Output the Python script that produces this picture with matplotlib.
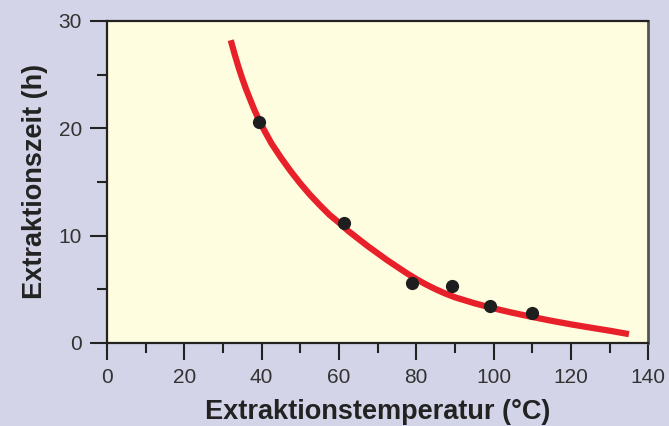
import numpy as np
import matplotlib.pyplot as plt
from matplotlib.ticker import MultipleLocator

# measured points
temp = [39.3, 61.4, 79.0, 89.2, 99.1, 110.0]
zeit = [20.6, 11.2, 5.6, 5.3, 3.45, 2.8]

# fitted curve
curve_t = [32, 33, 34, 35, 36, 37, 38, 39, 40, 42.5, 45, 47.5, 50, 52.5,
           55, 57.5, 60, 62.5, 65, 67.5, 70, 72.5, 75, 77.5, 80, 82.5, 85,
           87.5, 90, 95, 100, 105, 110, 115, 120, 125, 130, 135]
curve_z = [28.2, 26.9, 25.7, 24.6, 23.6, 22.7, 21.8, 21.0, 20.25, 18.6,
           17.25, 16.0, 14.85, 13.8, 12.85, 11.95, 11.2, 10.4, 9.7, 9.0,
           8.35, 7.7, 7.1, 6.5, 5.95, 5.45, 5.0, 4.6, 4.25, 3.7, 3.22, 2.8,
           2.42, 2.06, 1.73, 1.43, 1.14, 0.82]

plt.rcParams['font.family'] = ['Liberation Sans', 'DejaVu Sans']

fig = plt.figure(figsize=(6.69, 4.26), dpi=100, facecolor='#d3d4e7')
ax = fig.add_axes([0.16, 0.195, 0.809, 0.756], facecolor='#fffde0')

ax.plot(curve_t, curve_z, color='#e8202a', lw=4.5, solid_capstyle='butt',
        solid_joinstyle='round', zorder=2)
ax.plot(temp, zeit, 'o', color='#1e1e1e', ms=8.5, zorder=3)

ax.set_xlim(0, 140)
ax.set_ylim(0, 30)
ax.xaxis.set_major_locator(MultipleLocator(20))
ax.xaxis.set_minor_locator(MultipleLocator(10))
ax.yaxis.set_major_locator(MultipleLocator(10))
ax.yaxis.set_minor_locator(MultipleLocator(5))

ax.tick_params(which='major', direction='out', length=12, width=1.5,
               color='#222222', labelsize=15, labelcolor='#333333', pad=6)
ax.tick_params(which='minor', direction='out', length=7, width=1.5, color='#222222')

for side in ['left', 'bottom', 'top']:
    ax.spines[side].set_linewidth(1.6)
    ax.spines[side].set_color('#222222')
ax.spines['right'].set_linewidth(2)
ax.spines['right'].set_color('#555555')

ax.set_xlabel('Extraktionstemperatur (°C)', fontsize=19.5, fontweight='bold',
              color='#222222', labelpad=9)
ax.set_ylabel('Extraktionszeit (h)', fontsize=19.5, fontweight='bold',
              color='#222222', labelpad=8)

fig.savefig('out.png', dpi=100, facecolor=fig.get_facecolor())
